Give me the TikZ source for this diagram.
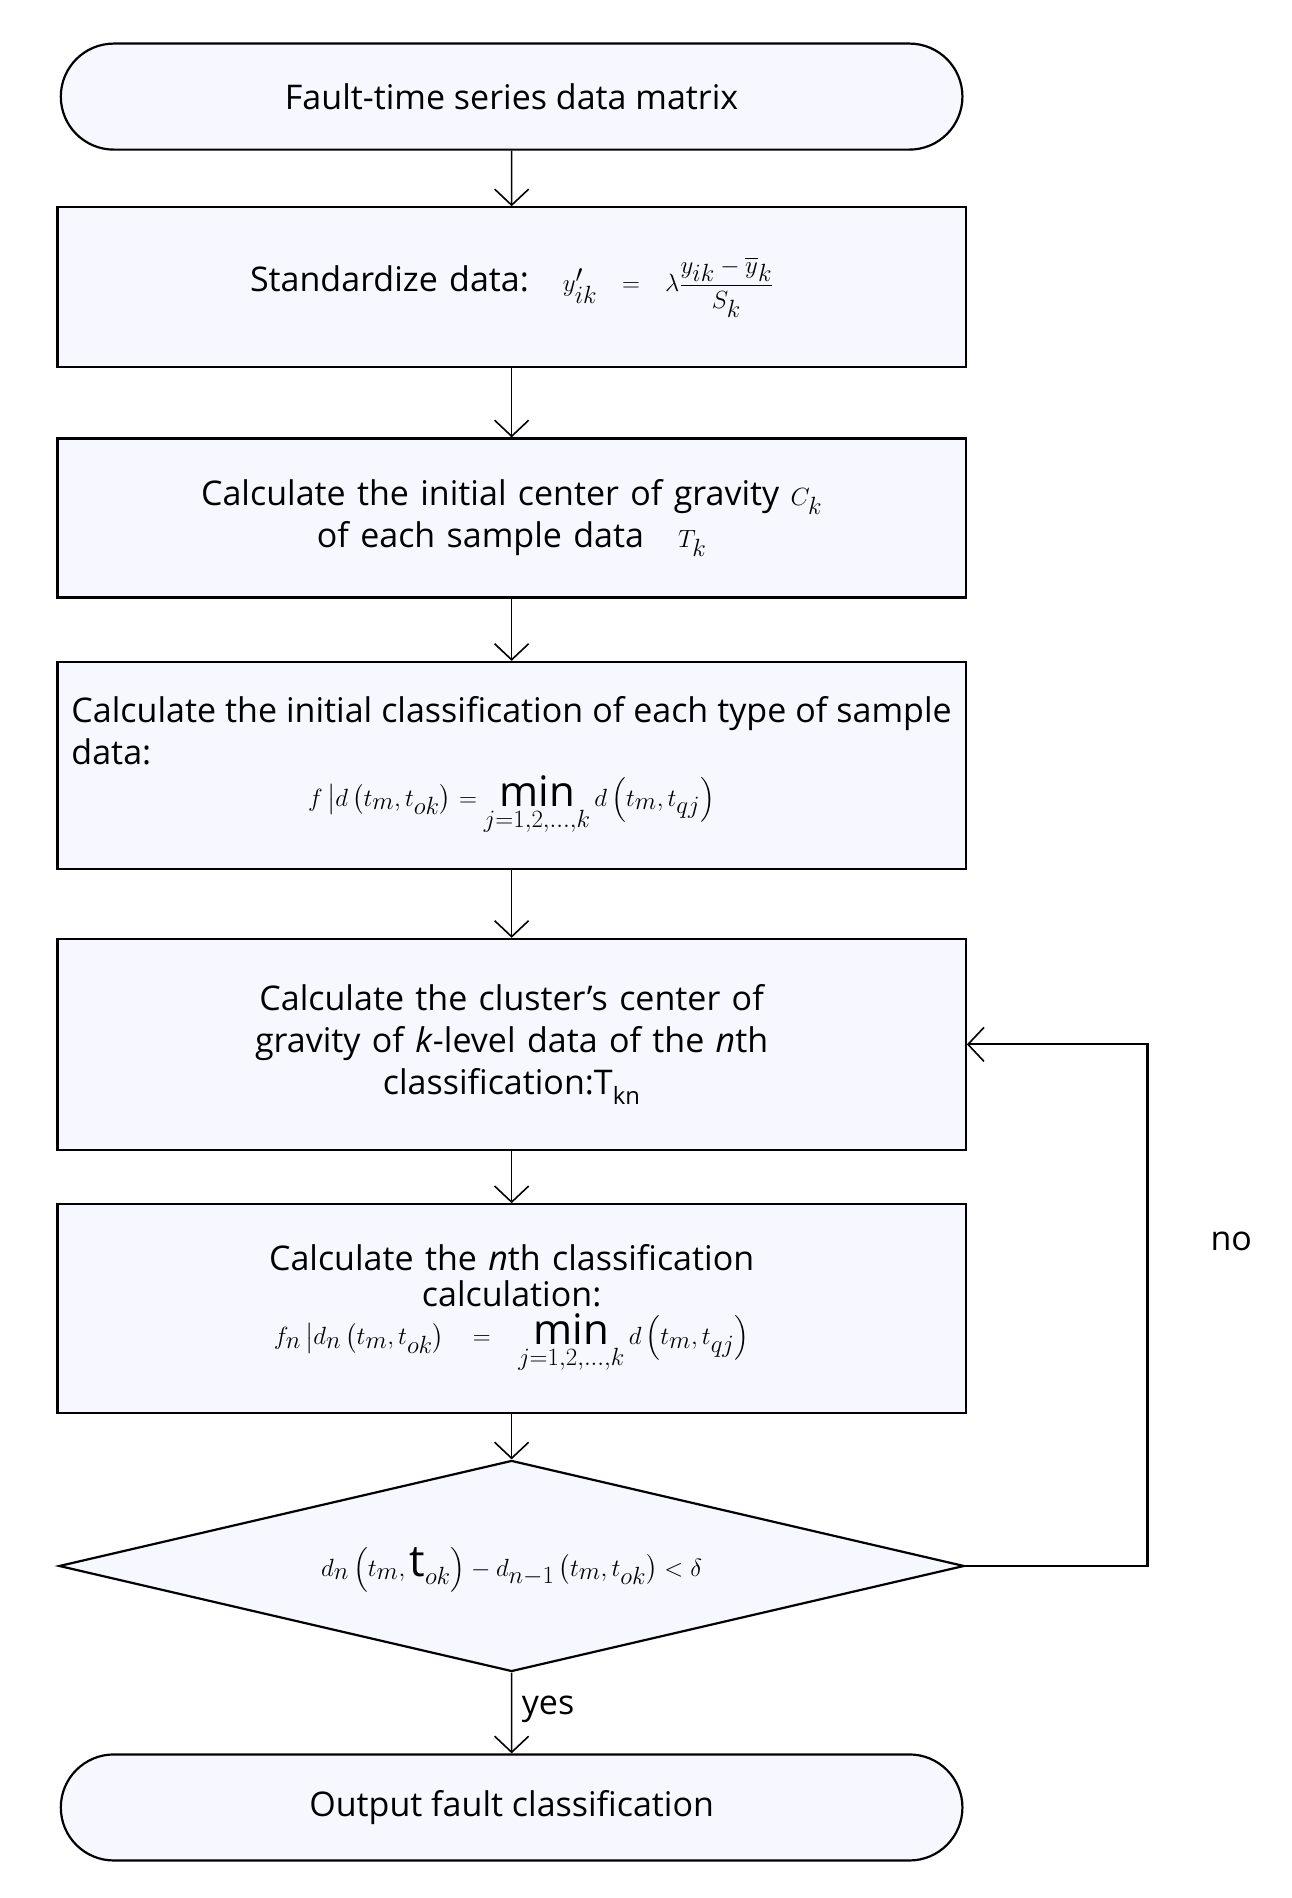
\documentclass[tikz,border=0pt]{standalone}
\usepackage{fontspec}
\usepackage{amsmath}
\setmainfont{Open Sans}
\usetikzlibrary{shapes.geometric,shapes.misc,arrows.meta,positioning}
\begin{document}
\begin{tikzpicture}[x=1.195pt,y=-1.207pt,
  every node/.style={font=\fontsize{34}{42}\selectfont},
  box/.style={draw,line width=2.2pt,fill=blue!3,rectangle,minimum width=908pt,text width=880pt,align=center,inner sep=8pt},
  term/.style={draw,line width=2.2pt,fill=blue!3,rounded rectangle,minimum width=908pt,minimum height=106pt},
  arr/.style={line width=1.6pt,-{Straight Barb[length=16pt,width=34pt,line width=1.6pt]}},
  mth/.style={font=\fontsize{40}{48}\selectfont}]
\useasboundingbox (0,0) rectangle (1080,1572);
\node[term] (s) at (428,80) {Fault-time series data matrix};
\node[box,minimum height=160pt] (b1) at (428,238) {Standardize data:\quad {\fontsize{40}{48}\selectfont$y'_{ik}=\lambda\dfrac{y_{ik}-\overline{y}_k}{S_k}$}\hspace*{50pt}};
\node[box,minimum height=159pt] (b2) at (428,429) {Calculate the initial center of gravity $C_k$\\ of each sample data\quad $T_k$};
\node[box,minimum height=207pt,align=justify] (b3) at (428,634) {Calculate the initial classification of each type of sample data:\par\centering{\fontsize{42}{46}\selectfont$f\left|d\left(t_m,t_{ok}\right)\right.=\min\limits_{j=1,2,\ldots,k}d\left(t_m,t_{qj}\right)$}\par};
\node[box,minimum height=211pt] (b4) at (428,865) {Calculate the cluster's center of\\ gravity of \textit{k}-level data of the \textit{n}th\\ classification:T$_{\text{kn}}$};
\node[box,minimum height=209pt] (b5) at (428,1084) {Calculate the \textit{n}th classification\\[-6pt] calculation:\\[-4pt] {\fontsize{42}{46}\selectfont$f_n\left|d_n\left(t_m,t_{ok}\right)\right.=\min\limits_{j=1,2,\ldots,k}d\left(t_m,t_{qj}\right)$}};
\node[draw,line width=2.2pt,fill=blue!3,diamond,minimum width=905pt,minimum height=211pt,inner sep=0pt,aspect=4.3] (d) at (428,1297) {};
\node at (428,1300) {\fontsize{44}{48}\selectfont$d_n\left(t_m,\mathrm{t}_{ok}\right)-d_{n-1}\left(t_m,t_{ok}\right)<\delta$};
\node[term] (e) at (428,1497) {Output fault classification};
\draw[arr] (s) -- (b1);
\draw[arr] (b1) -- (b2);
\draw[arr] (b2) -- (b3);
\draw[arr] (b3) -- (b4);
\draw[arr] (b4) -- (b5);
\draw[arr] (b5) -- (d);
\draw[arr] (d) -- (e) node[pos=0.45,right=6pt] (yes) {yes};
\coordinate (c1) at (960,1297);
\coordinate (c2) at (960,865);
\draw[arr,line width=2.2pt] (d.east) -- (c1) -- (c2) -- (b4.east);
\node (no) at (1030,1028) {no};
\end{tikzpicture}
\end{document}
